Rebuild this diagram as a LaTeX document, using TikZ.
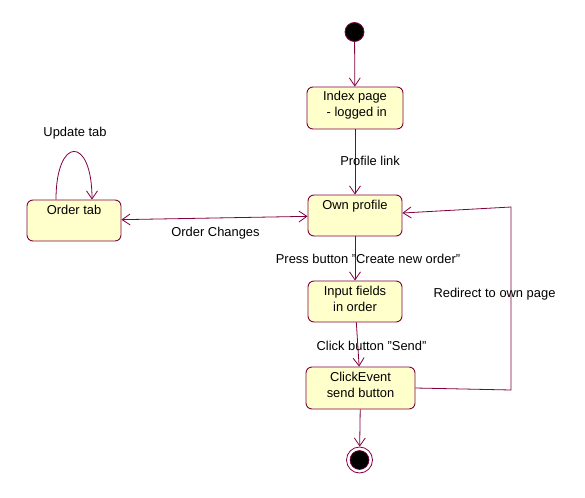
\documentclass[tikz,border=0pt]{standalone}
\usepackage{fontspec}
\setmainfont{Liberation Sans}
\usetikzlibrary{arrows.meta}
\definecolor{edge}{RGB}{128,0,64}
\definecolor{boxfill}{RGB}{255,255,204}
\begin{document}
\begin{tikzpicture}[x=1pt,y=-1pt,
  statebox/.style={draw=edge, fill=boxfill, rounded corners=6pt, line width=0.9pt, inner sep=0pt},
  lbl/.style={font=\fontsize{12.9}{16}\selectfont, text=black, inner sep=0pt, align=center},
  flow/.style={draw=edge, line width=0.8pt, -{Straight Barb[length=8pt,width=11pt]}},
  flowboth/.style={draw=edge, line width=0.8pt, {Straight Barb[length=8pt,width=11pt]}-{Straight Barb[length=8pt,width=11pt]}}
]
\fill[white] (0,0) rectangle (585,497);
\useasboundingbox (0,0) rectangle (585,497);

% states
\node[circle, draw=edge, fill=black, line width=0.8pt, minimum size=19pt, inner sep=0pt] (start) at (354.5,32) {};
\node[statebox, minimum width=96pt, minimum height=42pt,
  label={[lbl, yshift=3pt]center:Index page\\ \ - logged in}] (index) at (355,108) {};
\node[statebox, minimum width=94pt, minimum height=41pt,
  label={[lbl, anchor=north, yshift=-5pt]north:Own profile}] (own) at (355,215.5) {};
\node[statebox, minimum width=94pt, minimum height=41pt,
  label={[lbl, anchor=north, yshift=-5.5pt]north:Order tab}] (order) at (74,220.5) {};
\node[statebox, minimum width=94pt, minimum height=41pt,
  label={[lbl, yshift=2.5pt]center:Input fields\\in order}] (input) at (355,301.5) {};
\node[statebox, minimum width=109pt, minimum height=42pt,
  label={[lbl, yshift=3pt]center:ClickEvent\\send button}] (click) at (360.5,388) {};
\node[circle, draw=edge, fill=white, line width=0.8pt, minimum size=26pt, inner sep=0pt] (endo) at (359.5,460) {};
\node[circle, draw=edge, fill=black, line width=0.6pt, minimum size=19pt, inner sep=0pt] (endi) at (359.5,460) {};

% connectors
\draw[flow] (start) -- (index);
\draw[flow] (index) -- (own);
\draw[flow] (own) -- (input);
\draw[flow] (input) -- (click);
\draw[flow] (click) -- (endo);
\draw[flowboth] (order) -- (own);
\draw[flow] ([xshift=-18pt]order.north) .. controls +(0,-64) and +(0,-64) .. ([xshift=18pt]order.north);
\coordinate (r1) at (511,390);
\coordinate (r2) at (511,207);
\draw[flow] (click.east) -- (r1) -- (r2) -- ([yshift=2.5pt]own.east);

% labels
\node[lbl] (l1) at (370,161) {Profile link};
\node[lbl] (l2) at (75,133) {Update tab};
\node[lbl] (l3) at (215.5,233.5) {Order Changes};
\node[lbl] (l4) at (368,259) {Press button "Create new order"};
\node[lbl] (l5) at (494.5,294.5) {Redirect to own page};
\node[lbl] (l6) at (371.5,346) {Click button "Send"};
\end{tikzpicture}
\end{document}
